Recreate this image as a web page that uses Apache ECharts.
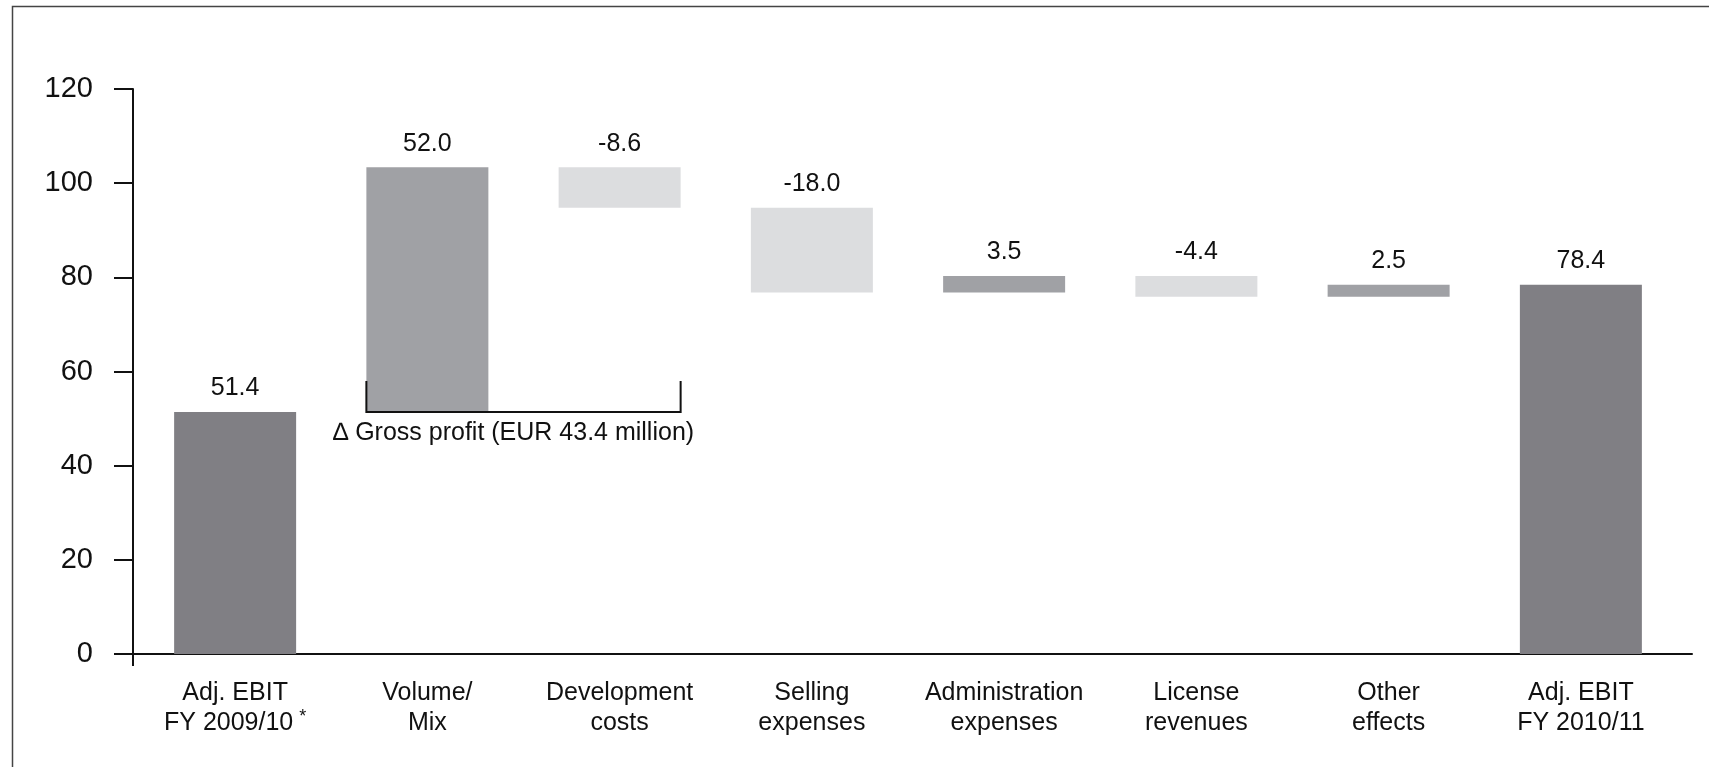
<!DOCTYPE html>
<html>
<head>
<meta charset="utf-8">
<script src="https://cdn.jsdelivr.net/npm/echarts@6/dist/echarts.min.js"></script>
<style>
  html, body { margin: 0; padding: 0; background: #fff; }
  #chart { width: 1709px; height: 767px; }
</style>
</head>
<body>
<div id="chart"></div>
<script>
// Adjusted EBIT bridge, EUR million
const categories = [
  'Adj. EBIT\nFY 2009/10{sup|*}',
  'Volume/\nMix',
  'Development\ncosts',
  'Selling\nexpenses',
  'Administration\nexpenses',
  'License\nrevenues',
  'Other\neffects',
  'Adj. EBIT\nFY 2010/11'
];
const kinds = ['total', 'delta', 'delta', 'delta', 'delta', 'delta', 'delta', 'total'];
const values = [51.4, 52.0, -8.6, -18.0, 3.5, -4.4, 2.5, 78.4];
const yTickRange = [0, 120, 20];
const bracketLabel = '\u2206 Gross profit (EUR 43.4 million)';
const bracketCategories = [1, 2];

const FONT = '"Liberation Sans", Arial, Helvetica, sans-serif';
const COLORS = { total: '#807f84', up: '#a0a1a5', down: '#dcdddf' };
const BAR_WIDTH = 122;

// Waterfall: invisible base + visible step
const baseData = [];
const stepData = [];
const startLevels = [];
let running = 0;
values.forEach((v, i) => {
  if (kinds[i] === 'total') {
    startLevels.push(0);
    baseData.push(0);
    stepData.push({ value: v, label: v.toFixed(1), itemStyle: { color: COLORS.total } });
    running = v;
  } else {
    const start = running;
    const end = running + v;
    startLevels.push(start);
    baseData.push(Math.min(start, end));
    stepData.push({
      value: Math.abs(v),
      label: v.toFixed(1),
      itemStyle: { color: v >= 0 ? COLORS.up : COLORS.down }
    });
    running = end;
  }
});

const bracketData = [[bracketCategories[0], bracketCategories[1], startLevels[bracketCategories[0]]]];

const chart = echarts.init(document.getElementById('chart'), null, { renderer: 'canvas' });

chart.setOption({
  backgroundColor: '#ffffff',
  animation: false,
  textStyle: { fontFamily: FONT },
  grid: [
    // plotting area for the bars
    { left: 139, right: 32, top: 89, bottom: 113, containLabel: false },
    // wider frame that carries the full-length baseline
    { left: 133, right: 17, top: 89, bottom: 113, containLabel: false }
  ],
  xAxis: [
    {
      type: 'category',
      gridIndex: 0,
      data: categories,
      axisLine: { show: false },
      axisTick: { show: false },
      axisLabel: {
        interval: 0,
        margin: 24,
        color: '#111',
        fontFamily: FONT,
        fontSize: 25,
        lineHeight: 30,
        rich: {
          sup: { fontSize: 18, lineHeight: 18, padding: [0, 0, 12, 6], color: '#111', fontFamily: FONT }
        }
      },
      splitLine: { show: false }
    },
    {
      type: 'value',
      gridIndex: 1,
      min: 0,
      max: 1,
      axisLine: { show: true, onZero: false, lineStyle: { color: '#111', width: 2 } },
      axisTick: { show: false },
      axisLabel: { show: false },
      splitLine: { show: false }
    }
  ],
  yAxis: [
    {
      type: 'value',
      gridIndex: 0,
      min: yTickRange[0],
      max: yTickRange[1],
      interval: yTickRange[2],
      offset: 6,
      axisLine: { show: true, lineStyle: { color: '#111', width: 2 } },
      axisTick: { show: true, inside: false, length: 19, lineStyle: { color: '#111', width: 2 } },
      axisLabel: { color: '#111', fontFamily: FONT, fontSize: 29, margin: 40 },
      splitLine: { show: false }
    },
    {
      type: 'value',
      gridIndex: 1,
      min: yTickRange[0],
      max: yTickRange[1],
      show: false
    }
  ],
  series: [
    {
      name: 'base',
      type: 'bar',
      stack: 'bridge',
      data: baseData,
      barWidth: BAR_WIDTH,
      itemStyle: { color: 'transparent' },
      emphasis: { disabled: true },
      silent: true
    },
    {
      name: 'step',
      type: 'bar',
      stack: 'bridge',
      data: stepData,
      barWidth: BAR_WIDTH,
      label: {
        show: true,
        position: 'top',
        distance: 11,
        color: '#111',
        fontFamily: FONT,
        fontSize: 25,
        formatter: (p) => p.data.label
      }
    },
    {
      name: 'bracket',
      type: 'custom',
      z: 10,
      data: bracketData,
      renderItem: (params, api) => {
        const a = api.coord([api.value(0), api.value(2)]);
        const b = api.coord([api.value(1), api.value(2)]);
        const half = BAR_WIDTH / 2;
        const x1 = a[0] - half;
        const x2 = b[0] + half;
        const y = a[1];
        return {
          type: 'group',
          children: [
            {
              type: 'polyline',
              shape: { points: [[x1, y - 31], [x1, y], [x2, y], [x2, y - 31]] },
              style: { stroke: '#111', lineWidth: 2, fill: null }
            },
            {
              type: 'text',
              x: (x1 + x2) / 2 - 10,
              y: y + 9,
              style: {
                text: bracketLabel,
                font: '25px ' + FONT,
                fill: '#111',
                align: 'center',
                verticalAlign: 'top'
              }
            }
          ]
        };
      }
    }
  ]
});

// Outer frame and the short extension of the value axis below zero
const origin = chart.convertToPixel({ gridIndex: 0 }, [0, 0]);
const axisX = chart.getModel().getComponent('grid', 1).coordinateSystem.getRect().x;
chart.setOption({
  graphic: [
    {
      type: 'rect',
      shape: { x: 12.5, y: 6.5, width: 1800, height: 900 },
      style: { fill: null, stroke: '#444', lineWidth: 1.5 },
      silent: true
    },
    {
      type: 'line',
      shape: { x1: axisX, y1: origin[1], x2: axisX, y2: origin[1] + 12 },
      style: { stroke: '#111', lineWidth: 2 },
      silent: true
    }
  ]
});
</script>
</body>
</html>
